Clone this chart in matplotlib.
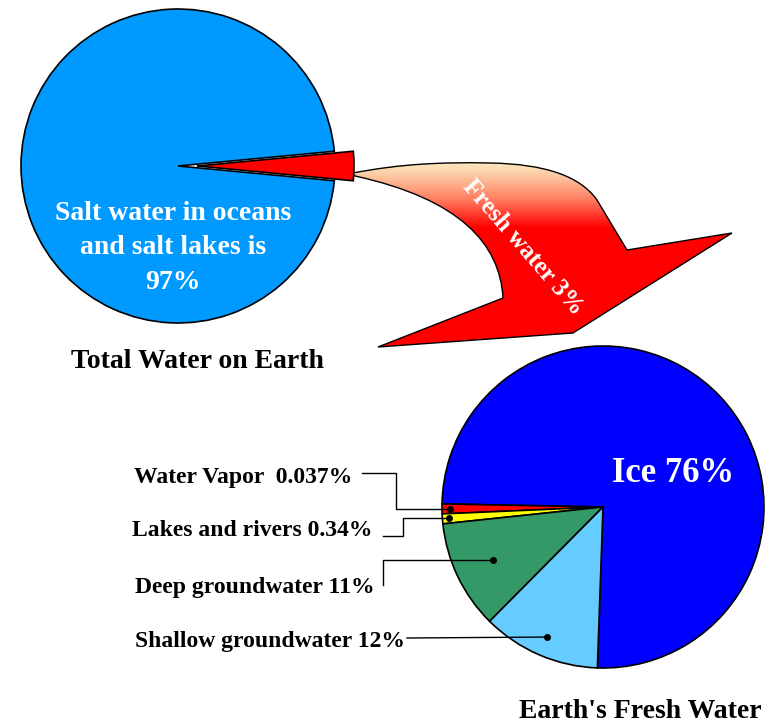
import numpy as np
import matplotlib
matplotlib.use('Agg')
import matplotlib.pyplot as plt
from matplotlib.path import Path
from matplotlib.patches import PathPatch
from matplotlib.colors import LinearSegmentedColormap

# Top pie: all the water on Earth (fresh slice first, it points right)
total_labels = ["Fresh water", "Salt water"]
total_shares = [3, 97]
total_colors = ["#FF0000", "#0099FF"]

# Bottom pie: Earth's fresh water, counterclockwise starting with ice
fresh_labels = ["Ice", "Water Vapor", "Lakes and rivers", "Deep groundwater", "Shallow groundwater"]
fresh_shares = [76, 0.037, 0.34, 11, 12]
fresh_colors = ["#0000FF", "#FF0000", "#FFFF00", "#339966", "#66CCFF"]
fresh_texts = ["Ice 76%", "Water Vapor  0.037%", "Lakes and rivers 0.34%",
               "Deep groundwater 11%", "Shallow groundwater 12%"]

# tiny slices are widened so they can be seen (as in the original drawing)
min_share = 1.0

W, H = 773, 724
plt.rcParams['font.family'] = ['Liberation Serif', 'DejaVu Serif']
plt.rcParams['font.weight'] = 'bold'

fig = plt.figure(figsize=(W / 100, H / 100), dpi=100)
ax = fig.add_axes([0, 0, 1, 1])
edge = dict(edgecolor='black', linewidth=1.2)

# ---- top pie
top_c = (178, 558)
top_r = 157
# explode is in data units here (pixels)
wedges_top, _ = ax.pie(total_shares, colors=total_colors, center=top_c, radius=top_r,
                       startangle=-total_shares[0] / sum(total_shares) * 180,
                       explode=[19, 0], wedgeprops=edge)
ax.text(173, 476, "Salt water in oceans\nand salt lakes is\n97%", color='white',
        fontsize=20, ha='center', va='center', linespacing=1.5, zorder=5)
ax.text(197, 362, "Total Water on Earth", color='black', fontsize=20,
        ha='center', va='center')

# ---- curved arrow with gradient fill
verts = [(353, 551), (400, 560), (440, 562), (490, 561),
         (545, 560), (580, 548), (597, 524),
         (627, 474), (732, 491), (573, 391), (378, 377), (503, 426),
         (500, 480), (460, 525), (355, 548), (353, 551)]
codes = [Path.MOVETO] + [Path.CURVE4] * 6 + [Path.LINETO] * 5 + [Path.CURVE4] * 3 + [Path.CLOSEPOLY]
arrow = PathPatch(Path(verts, codes), facecolor='none', edgecolor='black', linewidth=1, zorder=4)
ax.add_patch(arrow)
cmap = LinearSegmentedColormap.from_list('arrow', [(0, '#FF0000'), (0.64, '#FF0000'),
                                                   (0.79, '#FF7F62'), (0.91, '#FCC6A0'),
                                                   (1, '#FFF2C8')])
grad = np.linspace(0, 1, 256).reshape(-1, 1)
im = ax.imshow(grad, cmap=cmap, extent=(350, 735, 375, 565), origin='lower',
               aspect='auto', zorder=3)
im.set_clip_path(arrow)
ax.text(523, 477, "Fresh water 3%", color='white', fontsize=18, rotation=-49,
        ha='center', va='center', rotation_mode='anchor', zorder=5)

# ---- bottom pie
bot_c = (603, 217)
bot_r = 161
sizes = np.maximum(fresh_shares, min_share)
wedges_bot, _ = ax.pie(sizes, colors=fresh_colors, center=bot_c, radius=bot_r,
                       startangle=268, wedgeprops=edge)
ax.text(673, 251, fresh_texts[0], color='white', fontsize=25, ha='center', va='center')
ax.text(640, 12, "Earth's Fresh Water", color='black', fontsize=20, ha='center', va='center')

# labels with leader lines for the small slices
label_pos = [(352, 247), (372, 194), (375, 137), (405, 82)]
dot_frac = [0.95, 0.96, 0.76, 0.88]
for i in range(1, 5):
    w = wedges_bot[i]
    mid = np.deg2rad((w.theta1 + w.theta2) / 2)
    dx = bot_c[0] + bot_r * dot_frac[i - 1] * np.cos(mid)
    dy = bot_c[1] + bot_r * dot_frac[i - 1] * np.sin(mid)
    lx, ly = label_pos[i - 1]
    ax.text(lx, ly, fresh_texts[i], color='black', fontsize=17, ha='right', va='center')
    if i == 1:
        xs, ys = [362, 396, 396, dx], [251, 251, dy, dy]
    elif i == 2:
        xs, ys = [383, 403, 403, dx], [188, 188, dy, dy]
    elif i == 3:
        xs, ys = [383, 383, dx], [139, dy, dy]
    else:
        xs, ys = [407, dx], [86, dy]
    ax.plot(xs, ys, color='black', linewidth=1, zorder=6)
    ax.plot(dx, dy, 'o', color='black', markersize=4, zorder=6)

ax.set_xlim(0, W)
ax.set_ylim(0, H)
ax.set_aspect('auto')
ax.axis('off')
fig.savefig('out.png', dpi=100, facecolor='white')
